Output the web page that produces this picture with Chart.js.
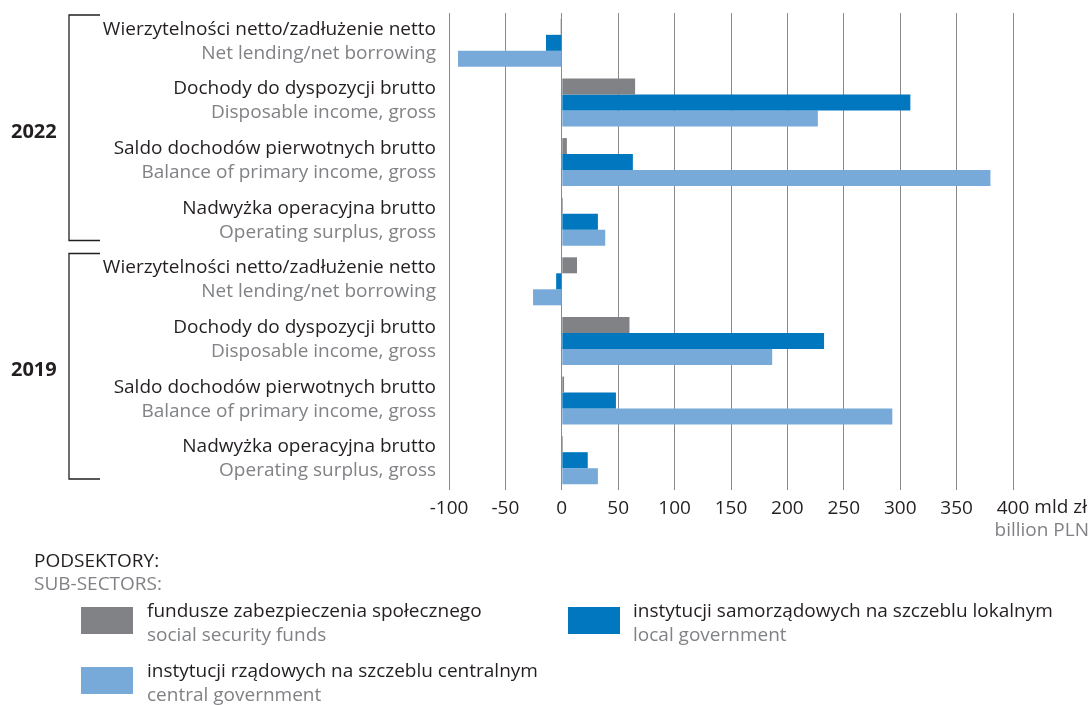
<!DOCTYPE html>
<html>
<head>
<meta charset="utf-8">
<script src="https://cdn.jsdelivr.net/npm/chart.js@4"></script>
<style>
html,body{margin:0;padding:0;background:#fff;}
#wrap{width:1090px;height:705px;position:relative;}
</style>
</head>
<body>
<div id="wrap"><canvas id="c" width="1090" height="705"></canvas></div>
<script>
// ---- data ----
const years = ['2022', '2019'];
const categoriesPL = [
  'Wierzytelności netto/zadłużenie netto',
  'Dochody do dyspozycji brutto',
  'Saldo dochodów pierwotnych brutto',
  'Nadwyżka operacyjna brutto'
];
const categoriesEN = [
  'Net lending/net borrowing',
  'Disposable income, gross',
  'Balance of primary income, gross',
  'Operating surplus, gross'
];
const socialSecurity = [-1, 65, 4.5, 1, 13.5, 60, 2, 1];
const localGov = [-14, 309, 63, 32, -5, 232.5, 48, 23];
const centralGov = [-92, 227, 380, 38.5, -25.5, 186.5, 293, 32];
const xTicks = [-100, -50, 0, 50, 100, 150, 200, 250, 300, 350, 400];
const unitPL = 'mld zł';
const unitEN = 'billion PLN';
const legendTitlePL = 'PODSEKTORY:';
const legendTitleEN = 'SUB-SECTORS:';
const seriesPL = ['fundusze zabezpieczenia społecznego', 'instytucji samorządowych na szczeblu lokalnym', 'instytucji rządowych na szczeblu centralnym'];
const seriesEN = ['social security funds', 'local government', 'central government'];

const labels = [];
years.forEach(y => categoriesPL.forEach((c, i) => labels.push([c, categoriesEN[i]])));

const COLORS = ['#818286', '#0077be', '#77aad8'];
const BLACK = '#231f20';
const GREY = '#808285';
const FONT = '"Open Sans", "Noto Sans", sans-serif';
const FS = 19;

const overlay = {
  id: 'overlay',
  afterDraw(chart) {
    const ctx = chart.ctx;
    const y = chart.scales.y, x = chart.scales.x;
    ctx.save();
    // category labels
    ctx.textAlign = 'right';
    ctx.textBaseline = 'alphabetic';
    labels.forEach((l, i) => {
      const c = y.getPixelForValue(i);
      ctx.font = FS + 'px ' + FONT;
      ctx.fillStyle = BLACK;
      ctx.fillText(l[0], 436, c - 8);
      ctx.fillStyle = GREY;
      ctx.fillText(l[1], 436, c + 16);
    });
    // year brackets
    const half = (y.getPixelForValue(1) - y.getPixelForValue(0)) / 2;
    years.forEach((yr, g) => {
      const top = y.getPixelForValue(g * 4) - half + 2;
      const bot = y.getPixelForValue(g * 4 + 3) + half - 11;
      ctx.strokeStyle = BLACK;
      ctx.lineWidth = 1.3;
      ctx.beginPath();
      ctx.moveTo(100, top); ctx.lineTo(69, top); ctx.lineTo(69, bot); ctx.lineTo(100, bot);
      ctx.stroke();
      const mid = (y.getPixelForValue(g * 4 + 1) + y.getPixelForValue(g * 4 + 2)) / 2;
      ctx.font = 'bold 20px ' + FONT;
      ctx.fillStyle = BLACK;
      ctx.textAlign = 'left';
      ctx.textBaseline = 'middle';
      ctx.fillText(yr, 11, mid);
      ctx.textAlign = 'right';
      ctx.textBaseline = 'alphabetic';
    });
    // unit
    const px400 = x.getPixelForValue(400);
    ctx.font = FS + 'px ' + FONT;
    ctx.fillStyle = BLACK;
    ctx.textAlign = 'left';
    ctx.textBaseline = 'middle';
    const w400 = ctx.measureText('400').width;
    ctx.fillText(unitPL, px400 + w400 / 2 + 5, 508);
    ctx.fillStyle = GREY;
    ctx.textAlign = 'right';
    ctx.fillText(unitEN, 1089, 531);
    // legend
    ctx.textAlign = 'left';
    ctx.fillStyle = BLACK;
    ctx.fillText(legendTitlePL, 34, 562);
    ctx.fillStyle = GREY;
    ctx.fillText(legendTitleEN, 34, 585);
    const items = [
      {i: 0, bx: 81, by: 607, tx: 147},
      {i: 1, bx: 568, by: 607, tx: 633},
      {i: 2, bx: 81, by: 667, tx: 147}
    ];
    items.forEach(it => {
      ctx.fillStyle = COLORS[it.i];
      ctx.fillRect(it.bx, it.by, 52, 27);
      ctx.fillStyle = BLACK;
      ctx.fillText(seriesPL[it.i], it.tx, it.by + 5);
      ctx.fillStyle = GREY;
      ctx.fillText(seriesEN[it.i], it.tx, it.by + 29);
    });
    ctx.restore();
  }
};

new Chart(document.getElementById('c'), {
  type: 'bar',
  data: {
    labels: labels,
    datasets: [
      {label: seriesPL[0], data: socialSecurity, backgroundColor: COLORS[0]},
      {label: seriesPL[1], data: localGov, backgroundColor: COLORS[1]},
      {label: seriesPL[2], data: centralGov, backgroundColor: COLORS[2]}
    ]
  },
  options: {
    indexAxis: 'y',
    responsive: false,
    animation: false,
    datasets: {bar: {categoryPercentage: 0.805, barPercentage: 1, borderWidth: 0}},
    layout: {padding: {left: 449, right: 77, top: 13, bottom: 0}},
    plugins: {legend: {display: false}, tooltip: {enabled: false}},
    scales: {
      x: {
        min: -100, max: 400,
        afterBuildTicks: s => { s.ticks = xTicks.map(v => ({value: v})); },
        afterFit: s => { s.height = 215; },
        grid: {color: '#8a8a8a', lineWidth: 1, drawTicks: false},
        border: {display: false},
        ticks: {color: BLACK, font: {size: FS, family: FONT}, padding: 7, maxRotation: 0, autoSkip: false,
          callback: v => String(v)}
      },
      y: {display: false}
    }
  },
  plugins: [overlay]
});
</script>
</body>
</html>
